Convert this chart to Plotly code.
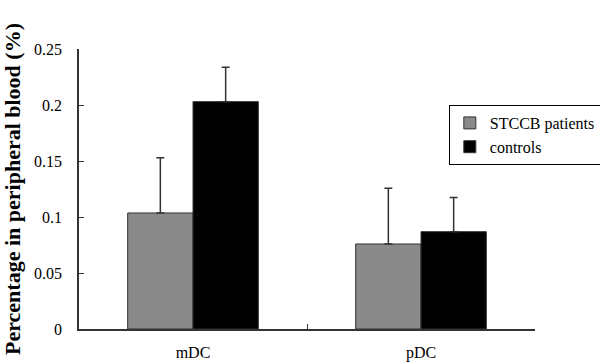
import plotly.graph_objects as go

categories = ["mDC", "pDC"]
patients_mean = [0.1036, 0.0759]
patients_err = [0.0494, 0.0497]
controls_mean = [0.2030, 0.0869]
controls_err = [0.0306, 0.0304]
y_ticks = [0, 0.05, 0.1, 0.15, 0.2, 0.25]
y_ticklabels = ["0", "0.05", "0.1", "0.15", "0.2", "0.25"]

FONT = "Liberation Serif, Times New Roman, serif"

fig = go.Figure()
fig.add_trace(go.Bar(
    name="STCCB patients", x=categories, y=patients_mean,
    marker=dict(color="#8a8a8a", line=dict(color="#333333", width=1)),
    error_y=dict(type="data", array=patients_err, arrayminus=[0, 0], symmetric=False,
                 color="#333333", thickness=1.5, width=4),
))
fig.add_trace(go.Bar(
    name="controls", x=categories, y=controls_mean,
    marker=dict(color="#000000", line=dict(color="#333333", width=1)),
    error_y=dict(type="data", array=controls_err, arrayminus=[0, 0], symmetric=False,
                 color="#333333", thickness=1.5, width=4),
))

fig.update_layout(
    width=600, height=364,
    margin=dict(l=79, r=65, t=49, b=35, autoexpand=False),
    paper_bgcolor="white", plot_bgcolor="white",
    barmode="group", bargap=0.427, bargroupgap=0,
    font=dict(family=FONT, size=16, color="black"),
    showlegend=True,
    legend=dict(x=0.811, y=0.80, xanchor="left", yanchor="top",
                bordercolor="black", borderwidth=1, bgcolor="white",
                font=dict(family=FONT, size=16, color="black"),
                tracegroupgap=0, itemwidth=30),
    xaxis=dict(
        range=[-0.5, 1.5], showline=True, linecolor="#333333", linewidth=1.5,
        ticks="inside", ticklen=5, tickcolor="#333333", tickson="boundaries",
        showgrid=False, zeroline=False, ticklabelstandoff=8, automargin=False,
        tickfont=dict(family=FONT, size=16, color="black"),
    ),
    yaxis=dict(
        range=[0, 0.25], tickvals=y_ticks, ticktext=y_ticklabels,
        showline=True, linecolor="#333333", linewidth=1.5,
        ticks="inside", ticklen=5, tickcolor="#333333", automargin=False,
        showgrid=False, zeroline=False, ticklabelstandoff=12,
        tickfont=dict(family=FONT, size=16, color="black"),
        title=dict(text="<b>Percentage in peripheral blood (%)</b>",
                   font=dict(family=FONT, size=22, color="black"), standoff=8),
    ),
)

fig.write_html("out.html", config={"displayModeBar": False},
               post_script="document.body.style.margin='0';")
